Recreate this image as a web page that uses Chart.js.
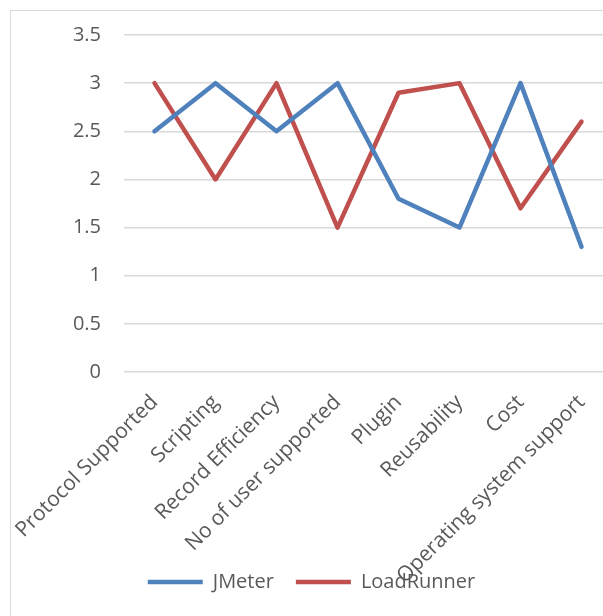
<!DOCTYPE html>
<html>
<head>
<meta charset="utf-8">
<script src="https://cdn.jsdelivr.net/npm/chart.js@4"></script>
<style>
	html, body { margin: 0; padding: 0; background: #fff; overflow: hidden; }
	#box {
		position: absolute; left: 10px; top: 10px;
		width: 630px; height: 660px;
		border: 1px solid #d9d9d9; background: #fff;
	}
	#wrap { position: absolute; left: 0; top: 0; width: 630px; height: 643px; }
</style>
</head>
<body>
<div id="box"><div id="wrap"><canvas id="mycanvas"></canvas></div></div>
<script>
var categories = ["Protocol Supported", "Scripting", "Record Efficiency", "No of user supported",
	"Plugin", "Reusability", "Cost", "Operating system support"];
var jmeter = [2.5, 3, 2.5, 3, 1.8, 1.5, 3, 1.3];
var loadrunner = [3, 2, 3, 1.5, 2.9, 3, 1.7, 2.6];
var yTicks = [0, 0.5, 1, 1.5, 2, 2.5, 3, 3.5];

Chart.defaults.font.family = "'Open Sans', sans-serif";
Chart.defaults.font.size = 20;
Chart.defaults.color = '#595959';

// excel draws the legend over the bottom of the category labels, so pull it up
var legendUp = {
	id: 'legendUp',
	afterLayout: function(chart) {
		var lg = chart.legend;
		var h = lg.bottom - lg.top;
		lg.top = 539;
		lg.bottom = 539 + h;
	}
};

var chartdata = {
	labels: categories,
	datasets: [
		{
			label: 'JMeter',
			data: jmeter,
			borderColor: '#4f81bd',
			backgroundColor: '#4f81bd',
			borderWidth: 4.5,
			borderCapStyle: 'round',
			borderJoinStyle: 'round',
			pointRadius: 0,
			tension: 0
		},
		{
			label: 'LoadRunner',
			data: loadrunner,
			borderColor: '#c0504d',
			backgroundColor: '#c0504d',
			borderWidth: 4.5,
			borderCapStyle: 'round',
			borderJoinStyle: 'round',
			pointRadius: 0,
			tension: 0
		}
	]
};

var ctx = document.getElementById('mycanvas');
var lineGraph = new Chart(ctx, {
	type: 'line',
	data: chartdata,
	plugins: [legendUp],
	options: {
		responsive: true,
		maintainAspectRatio: false,
		animation: false,
		layout: { padding: { top: 24, right: 29, bottom: 0, left: 0 } },
		plugins: {
			tooltip: { enabled: false },
			legend: {
				position: 'bottom',
				labels: {
					usePointStyle: true,
					pointStyle: 'line',
					pointStyleWidth: 55,
					boxHeight: 20,
					padding: 22,
					color: '#595959',
					font: { size: 20 }
				}
			}
		},
		scales: {
			x: {
				offset: true,
				// invisible tick marks give the gap instead of ticks.padding
				grid: { display: false, drawTicks: true, tickLength: 18 },
				border: { display: false },
				ticks: {
					autoSkip: false,
					minRotation: 45,
					maxRotation: 45,
					padding: 0,
					font: { size: 21 }
				},
				afterFit: function(scale) { scale.height = 230; }
			},
			y: {
				min: 0,
				max: 3.5,
				afterBuildTicks: function(scale) {
					scale.ticks = yTicks.map(function(v) { return { value: v }; });
				},
				grid: {
					color: '#d9d9d9', lineWidth: 1.5,
					drawTicks: true, tickLength: 23, tickColor: 'rgba(0,0,0,0)'
				},
				border: { display: false },
				ticks: {
					padding: 0,
					callback: function(v) { return String(v); }
				},
				afterFit: function(scale) { scale.width = 113; }
			}
		}
	}
});
</script>
</body>
</html>
